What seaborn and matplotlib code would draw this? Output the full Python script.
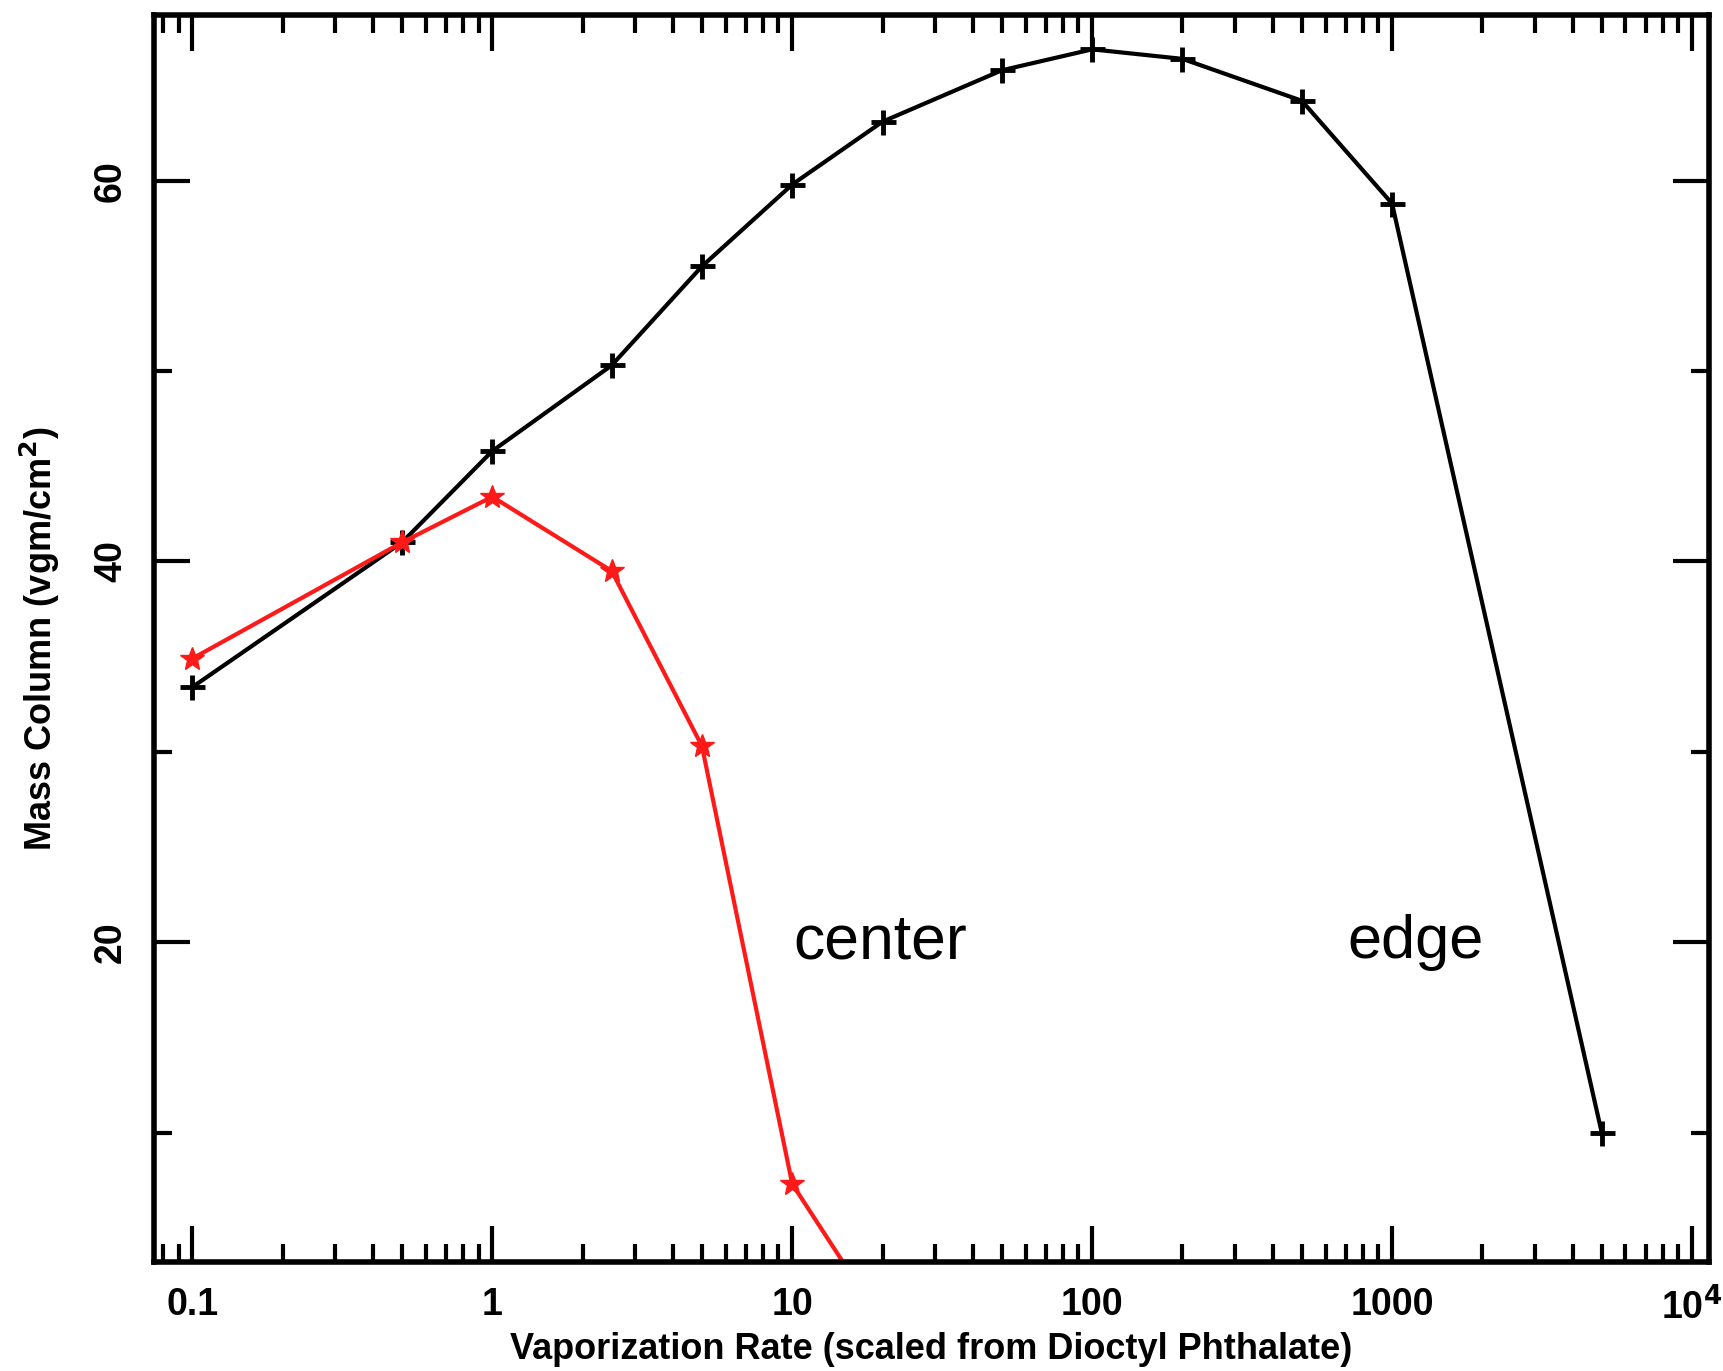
import matplotlib
matplotlib.use("Agg")
import matplotlib.pyplot as plt
import numpy as np
import pandas as pd
import seaborn as sns
from matplotlib.ticker import FixedLocator, NullFormatter, LogLocator

# vaporization rate (scaled from dioctyl phthalate)
edge_rate = [0.1, 0.5, 1, 2.5, 5, 10, 20, 50, 100, 200, 500, 1000, 5000]
edge_mass = [33.4, 41.0, 45.8, 50.3, 55.5, 59.8, 63.1, 65.8, 66.9, 66.4, 64.2, 58.8, 10.0]

center_rate = [0.1, 0.5, 1, 2.5, 5, 10, 20]
center_mass = [34.9, 41.0, 43.4, 39.5, 30.3, 7.3, 0.0]

xtick_vals = [0.1, 1, 10, 100, 1000, 10000]
xtick_labels = ["0.1", "1", "10", "100", "1000", "10$^4$"]
ytick_vals = [20, 40, 60]

sns.set_style("ticks")
plt.rcParams["font.family"] = ["Liberation Sans", "DejaVu Sans"]
plt.rcParams["font.weight"] = "bold"
plt.rcParams["text.color"] = "black"
plt.rcParams["axes.labelcolor"] = "black"
plt.rcParams["xtick.color"] = "black"
plt.rcParams["ytick.color"] = "black"
plt.rcParams["axes.edgecolor"] = "black"

edge_df = pd.DataFrame({"rate": edge_rate, "mass": edge_mass})
center_df = pd.DataFrame({"rate": center_rate, "mass": center_mass})

fig = plt.figure(figsize=(17.23, 13.71), dpi=100)
ax = fig.add_axes([0.0894, 0.0795, 0.9025, 0.9095])

sns.lineplot(data=edge_df, x="rate", y="mass", ax=ax, color="black", lw=3,
             marker="+", markersize=18, markeredgewidth=3.5, markeredgecolor="black")
sns.lineplot(data=center_df, x="rate", y="mass", ax=ax, color="#ff1a1a", lw=3,
             marker="*", markersize=18, markeredgewidth=1, markeredgecolor="#ff1a1a")

ax.set_xscale("log")
ax.set_xlim(0.0745, 11400)
ax.set_ylim(3.2, 68.7)

ax.set_xticks(xtick_vals)
ax.set_xticklabels(xtick_labels)
ax.xaxis.set_minor_locator(LogLocator(base=10, subs=np.arange(2, 10)))
ax.xaxis.set_minor_formatter(NullFormatter())
ax.set_yticks(ytick_vals)
ax.set_yticklabels([str(v) for v in ytick_vals], rotation=90, va="center")
ax.yaxis.set_minor_locator(FixedLocator([10, 30, 50]))

ax.tick_params(which="both", direction="in", top=True, right=True, width=3)
ax.tick_params(which="major", length=26, labelsize=27, pad=18)
ax.tick_params(which="minor", length=13)
for s in ax.spines.values():
    s.set_linewidth(4)

ax.set_xlabel("Vaporization Rate (scaled from Dioctyl Phthalate)", fontsize=26,
              fontweight="bold", labelpad=4)
ax.set_ylabel("Mass Column (vgm/cm$^2$)", fontsize=26, fontweight="bold", labelpad=22)

ax.text(19.6, 20, "center", fontsize=45, fontweight="normal", ha="center", va="center")
ax.text(1200, 20, "edge", fontsize=44, fontweight="normal", ha="center", va="center")

fig.savefig("out.png", dpi=100)
